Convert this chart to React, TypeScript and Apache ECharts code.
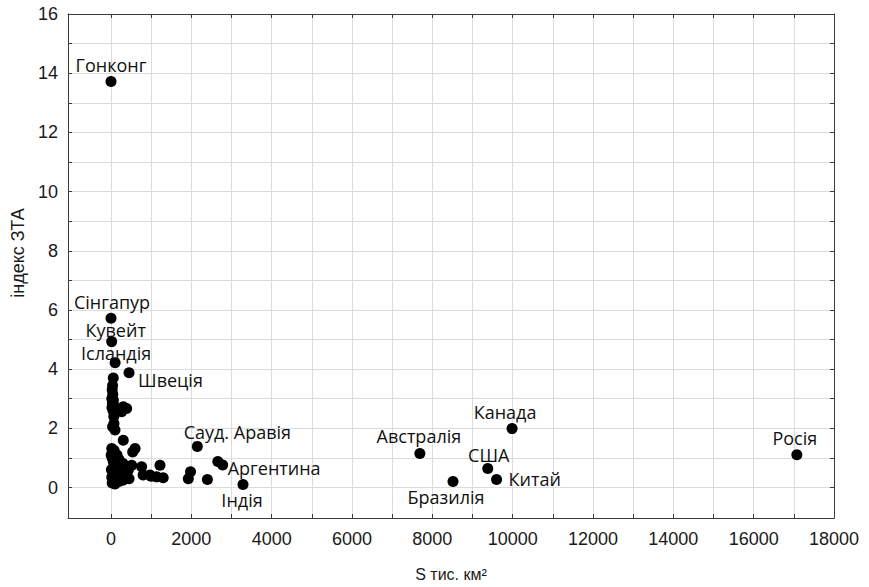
import React, { useEffect, useRef } from "react";
import * as echarts from "echarts";

// Labelled countries: area (thousand km²) and index value
const labeledNames = ["Гонконг", "Сінгапур", "Кувейт", "Ісландія", "Швеція", "Сауд. Аравія", "Аргентина", "Індія", "Австралія", "Канада", "США", "Китай", "Бразилія", "Росія"];
const labeledArea = [1.1, 0.7, 17.8, 103, 450, 2150, 2780, 3287, 7690, 9985, 9380, 9600, 8515, 17075];
const labeledIndex = [13.72, 5.72, 4.93, 4.22, 3.88, 1.39, 0.76, 0.1, 1.15, 1.99, 0.64, 0.27, 0.2, 1.11];

// Unlabelled countries
const otherArea = [57, 40, 30, 45, 20, 60, 35, 80, 25, 50, 90, 70, 306, 390, 266, 200, 75, 40, 100, 306, 20, 600, 540, 80, 150, 30, 200, 100, 60, 250, 130, 515, 763, 1220, 430, 300, 40, 180, 90, 350, 800, 970, 1137, 1300, 240, 20, 120, 60, 200, 30, 100, 300, 450, 1000, 1980, 1925, 2400, 2660, 5, 10, 110, 160];
const otherIndex = [3.7, 3.45, 3.3, 3.15, 3.0, 2.95, 2.85, 2.75, 2.7, 2.6, 2.5, 2.4, 2.73, 2.67, 2.56, 2.62, 2.16, 2.05, 1.94, 1.6, 1.32, 1.32, 1.2, 1.25, 1.1, 1.0, 0.95, 0.9, 0.85, 0.8, 0.75, 0.75, 0.7, 0.75, 0.58, 0.81, 0.62, 0.55, 0.5, 0.45, 0.42, 0.42, 0.36, 0.33, 0.4, 0.35, 0.3, 0.25, 0.2, 0.15, 0.12, 0.25, 0.3, 0.38, 0.53, 0.3, 0.27, 0.88, 1.1, 0.6, 0.18, 0.65];

// Axis ticks
const xLabelValues = [0, 2000, 4000, 6000, 8000, 10000, 12000, 14000, 16000, 18000];
const xTickValues = [0, 1000, 2000, 3000, 4000, 5000, 6000, 7000, 8000, 9000, 10000, 11000, 12000, 13000, 14000, 15000, 16000, 17000, 18000];
const yLabelValues = [0, 2, 4, 6, 8, 10, 12, 14, 16];
const yTickValues = [0, 1, 2, 3, 4, 5, 6, 7, 8, 9, 10, 11, 12, 13, 14, 15, 16];

const xName = "S тис. км²";
const yName = "індекс ЗТА";

// label placement relative to the point centre (style, not data)
type Place = { align: string; dx: number; dy: number };
const placement: Record<string, Place> = {
  "Гонконг": { align: "center", dx: 0, dy: -16 },
  "Сінгапур": { align: "center", dx: 1, dy: -16 },
  "Кувейт": { align: "center", dx: 4, dy: -12 },
  "Ісландія": { align: "center", dx: 1, dy: -10 },
  "Швеція": { align: "left", dx: 9, dy: 7 },
  "Сауд. Аравія": { align: "center", dx: 40, dy: -14 },
  "Аргентина": { align: "left", dx: 5, dy: 3 },
  "Індія": { align: "center", dx: -1, dy: 15 },
  "Австралія": { align: "center", dx: -1, dy: -17 },
  "Канада": { align: "center", dx: -7, dy: -17 },
  "США": { align: "center", dx: 1, dy: -14 },
  "Китай": { align: "left", dx: 12, dy: -1 },
  "Бразилія": { align: "center", dx: -7, dy: 15 },
  "Росія": { align: "center", dx: -2, dy: -17 },
};

const X_MIN = -1070;
const X_MAX = 18000;
const Y_MIN = -1.03;
const Y_MAX = 16;
const SYMBOL = 11;

export default function App() {
  const ref = useRef<HTMLDivElement>(null);
  useEffect(() => {
    if (!ref.current) return;
    const chart = echarts.init(ref.current, undefined, { renderer: "svg" });
    const axisColor = "#3a3a3a";
    const tickFont = "Liberation Sans, Arial, sans-serif";
    const labelFont = { fontFamily: tickFont, fontSize: 18, color: "#1a1a1a" };
    const pointLabelStyle = { fontFamily: "Open Sans, Noto Sans, sans-serif", fontSize: 18, color: "#111111" };

    const others = otherArea.slice(0, Math.min(otherArea.length, otherIndex.length)).map((a, i) => [a, otherIndex[i]]);
    const half = SYMBOL / 2;
    const labeled = labeledNames.map((n, i) => {
      const p = placement[n] || { align: "center", dx: 0, dy: -16 };
      return {
        name: n,
        value: [labeledArea[i], labeledIndex[i]],
        label: {
          show: true,
          position: [half + p.dx, half + p.dy],
          align: p.align,
          verticalAlign: "middle",
          ...pointLabelStyle,
        },
      };
    });

    const frameX = (pos: string, main: boolean) => ({
      type: "value",
      position: pos,
      min: X_MIN,
      max: X_MAX,
      splitNumber: 10,
      minInterval: 2000,
      maxInterval: 2000,
      axisLine: { show: true, onZero: false, lineStyle: { color: axisColor, width: 1 } },
      axisTick: { show: true, inside: true, length: 4, customValues: xTickValues, lineStyle: { color: axisColor } },
      axisLabel: main
        ? { show: true, customValues: xLabelValues, margin: 12, formatter: (v: number) => String(v), ...labelFont }
        : { show: false },
      splitLine: main ? { show: true, lineStyle: { color: "#dcdcdc", width: 1 } } : { show: false },
      ...(main
        ? {
            name: xName,
            nameLocation: "middle",
            nameGap: 48,
            nameTextStyle: { fontFamily: tickFont, fontSize: 16, color: "#1a1a1a" },
          }
        : {}),
    });
    const frameY = (pos: string, main: boolean) => ({
      type: "value",
      position: pos,
      min: Y_MIN,
      max: Y_MAX,
      splitNumber: 8,
      minInterval: 2,
      maxInterval: 2,
      axisLine: { show: true, onZero: false, lineStyle: { color: axisColor, width: 1 } },
      axisTick: { show: true, inside: true, length: 4, customValues: yTickValues, lineStyle: { color: axisColor } },
      axisLabel: main
        ? { show: true, customValues: yLabelValues, margin: 10, formatter: (v: number) => String(v), ...labelFont }
        : { show: false },
      splitLine: main ? { show: true, lineStyle: { color: "#dcdcdc", width: 1 } } : { show: false },
    });

    chart.setOption({
      animation: false,
      backgroundColor: "#ffffff",
      grid: { left: 68, right: 35, top: 14, bottom: 66.5, containLabel: false },
      xAxis: [frameX("bottom", true), frameX("top", false)],
      yAxis: [frameY("left", true), frameY("right", false)],
      graphic: [
        {
          type: "text",
          x: 18,
          y: 253,
          rotation: Math.PI / 2,
          style: {
            text: yName,
            fontFamily: tickFont,
            fontSize: 18,
            fill: "#1a1a1a",
            align: "center",
            verticalAlign: "middle",
          },
        },
      ],
      series: [
        {
          type: "scatter",
          xAxisIndex: 0,
          yAxisIndex: 0,
          symbol: "circle",
          symbolSize: SYMBOL,
          itemStyle: { color: "#000000", opacity: 1 },
          data: others,
          z: 3,
        },
        {
          type: "scatter",
          xAxisIndex: 0,
          yAxisIndex: 0,
          symbol: "circle",
          symbolSize: SYMBOL,
          itemStyle: { color: "#000000", opacity: 1 },
          data: labeled,
          z: 4,
          label: { show: true, formatter: "{b}", ...pointLabelStyle },
          labelLayout: { hideOverlap: false },
        },
      ],
    });
    return () => chart.dispose();
  }, []);
  return <div ref={ref} style={{ position: "fixed", left: 0, top: 0, width: 869, height: 587 }} />;
}
